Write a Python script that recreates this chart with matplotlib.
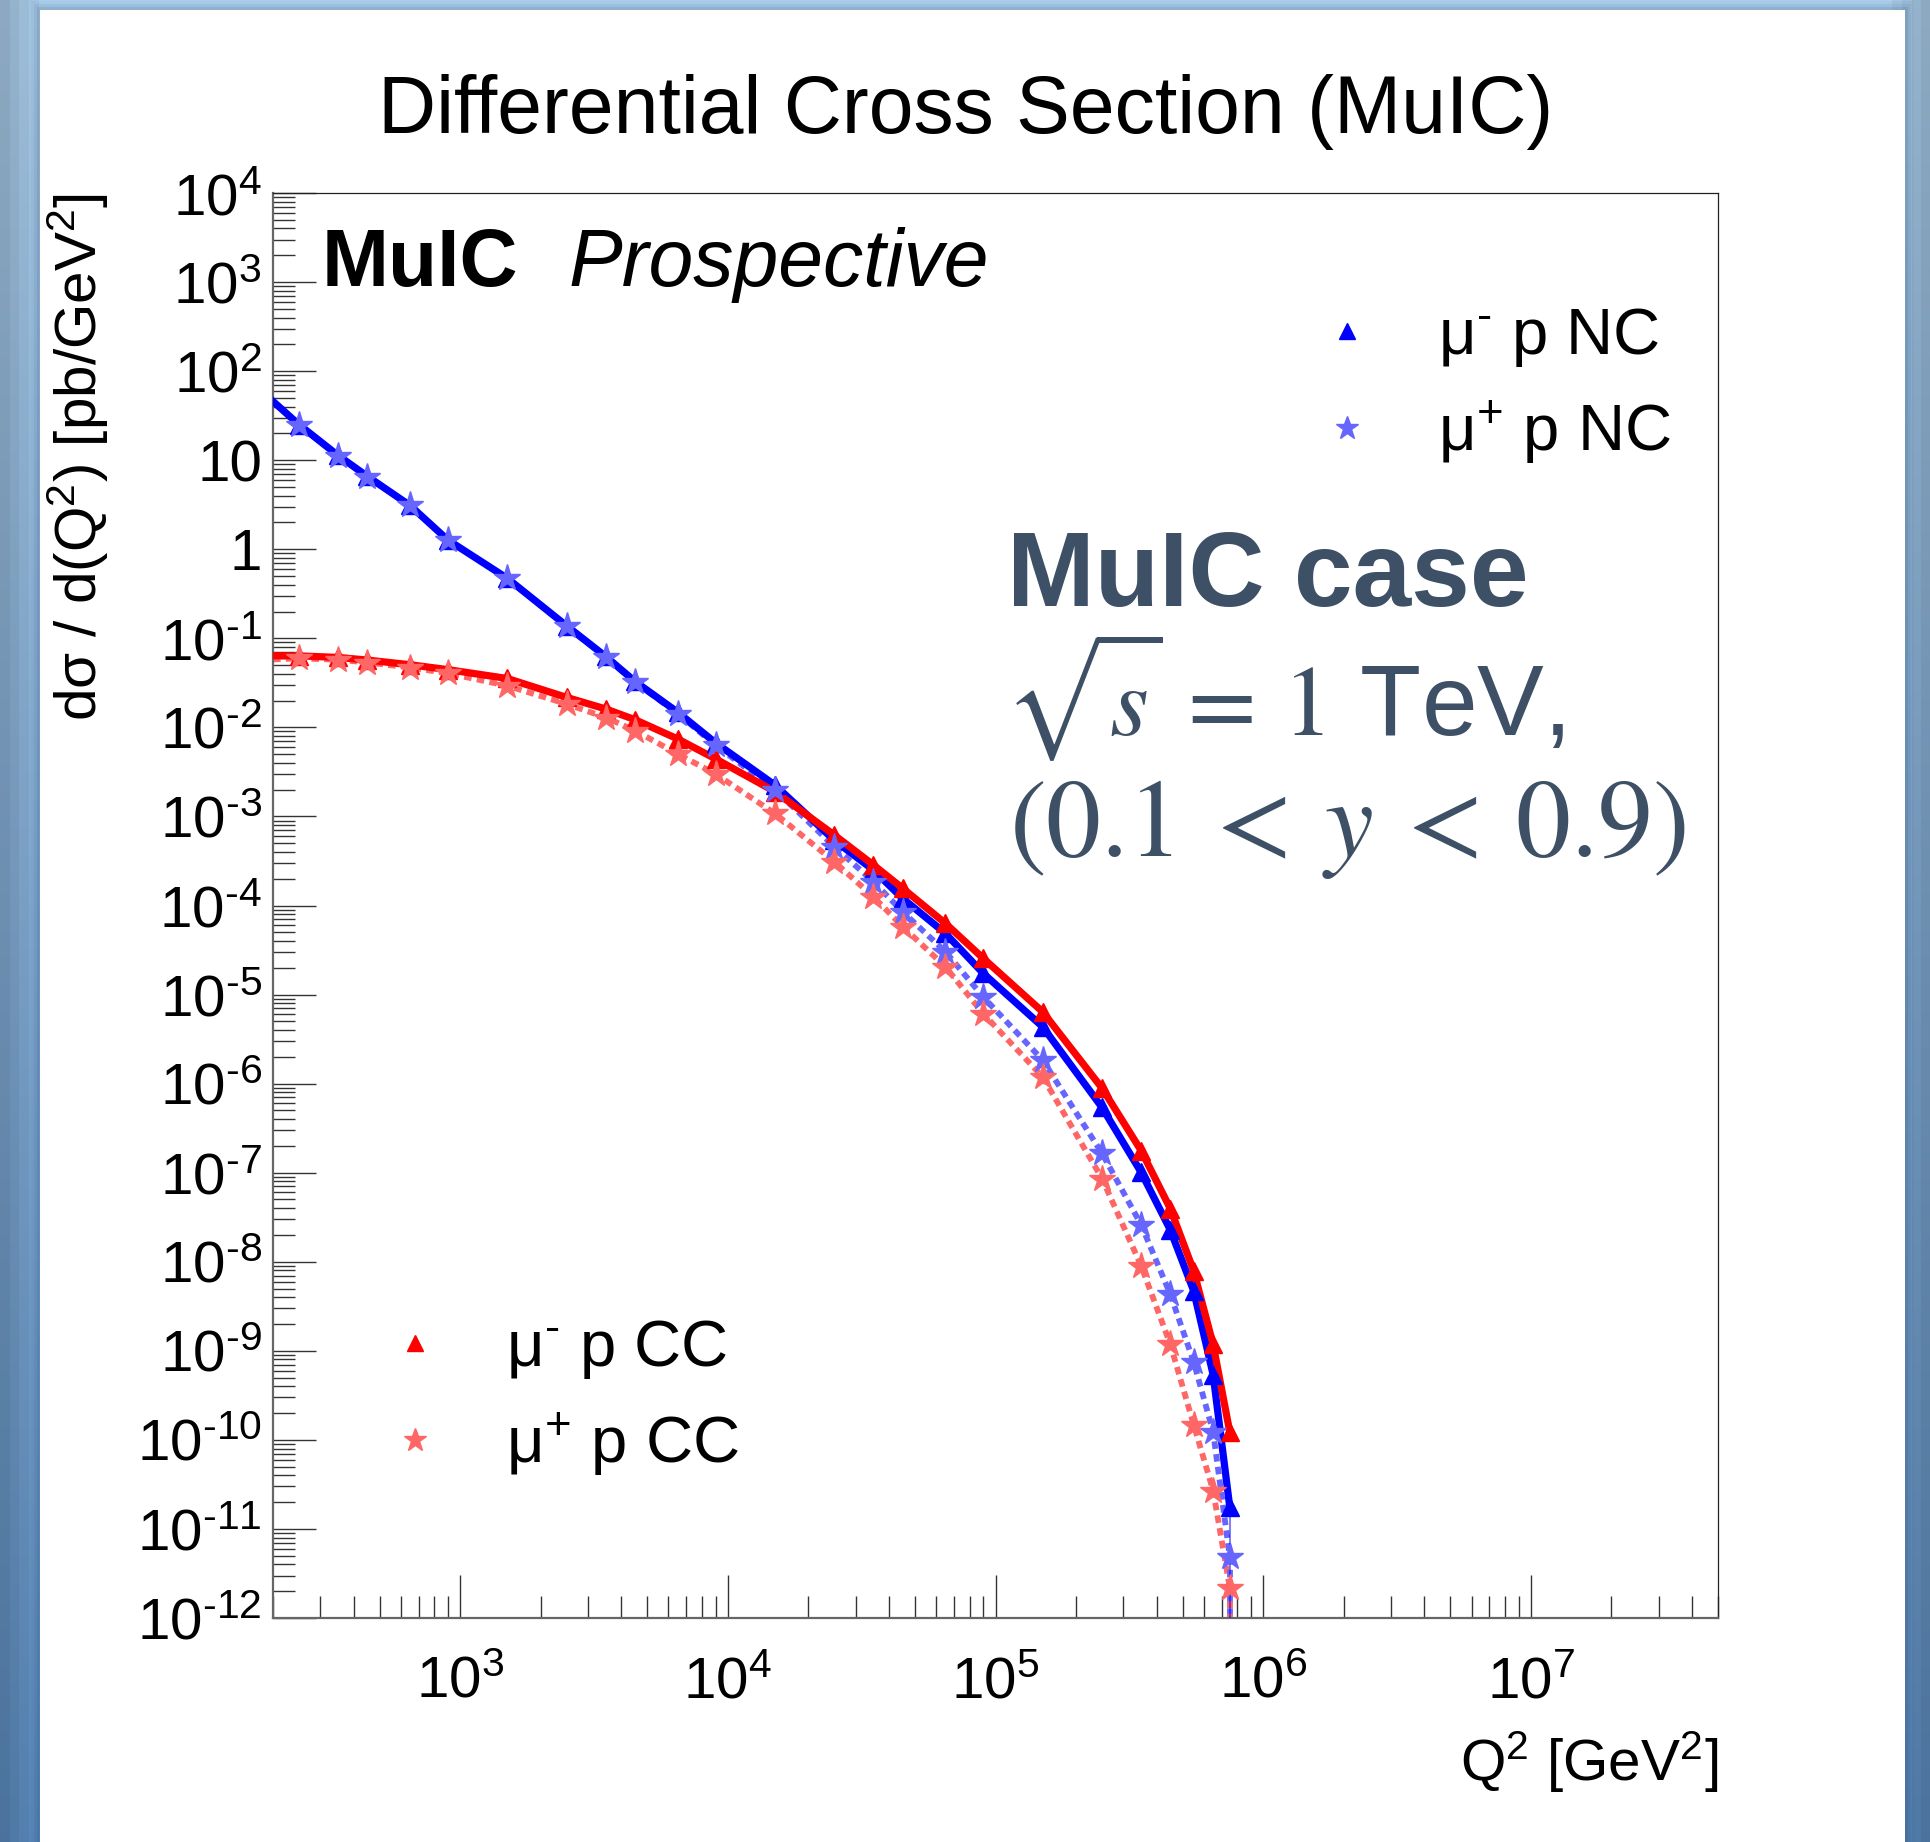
import numpy as np
import matplotlib
matplotlib.use("Agg")
import matplotlib.pyplot as plt
from matplotlib.patches import Rectangle
from matplotlib.lines import Line2D
from matplotlib.ticker import LogLocator, FuncFormatter, NullFormatter

plt.rcParams['font.family'] = ['Liberation Sans', 'DejaVu Sans']
plt.rcParams['mathtext.fontset'] = 'custom'
plt.rcParams['mathtext.rm'] = 'Liberation Sans'
plt.rcParams['mathtext.it'] = 'Liberation Sans:italic'
plt.rcParams['mathtext.bf'] = 'Liberation Sans:bold'
plt.rcParams['mathtext.default'] = 'regular'

# ====== Q^2 bins [GeV^2] (first entry = start of the curves) ======
q2 = [200, 250, 350, 450, 650, 900, 1500, 2500, 3500, 4500, 6500, 9000,
      15000, 25000, 35000, 45000, 65000, 90000, 150000, 250000, 350000,
      450000, 550000, 650000, 750000]

# ====== dsigma/dQ^2 [pb/GeV^2] ======
nc_minus = [45.8, 25.1, 11.3, 6.6, 3.1, 1.27, 0.472, 0.138, 0.0625, 0.0328,
            0.0148, 0.0067, 2.25e-3, 5.4e-4, 2.5e-4, 1.2e-4, 4.86e-5, 1.73e-5,
            4.35e-6, 5.4e-7, 1.01e-7, 2.27e-8, 4.7e-9, 5.4e-10, 1.77e-11]
nc_plus = [45.5, 25.0, 11.2, 6.5, 3.1, 1.26, 0.47, 0.136, 0.0615, 0.0322,
           0.0143, 0.0063, 2.0e-3, 4.57e-4, 1.85e-4, 8.5e-5, 3.03e-5, 9.4e-6,
           1.84e-6, 1.65e-7, 2.6e-8, 4.3e-9, 7.5e-10, 1.23e-10, 4.9e-12]
cc_minus = [0.0637, 0.0635, 0.061, 0.057, 0.0505, 0.0445, 0.0354, 0.0217,
            0.0161, 0.0122, 0.00741, 0.00443, 1.9e-3, 6.18e-4, 2.85e-4,
            1.56e-4, 6.3e-5, 2.55e-5, 6.4e-6, 8.9e-7, 1.77e-7, 3.94e-8,
            7.9e-9, 1.18e-9, 1.23e-10]
cc_plus = [0.058, 0.0595, 0.0575, 0.0535, 0.047, 0.0405, 0.0293, 0.0183,
           0.0129, 0.0092, 0.00503, 0.0030, 1.08e-3, 3.1e-4, 1.25e-4, 5.8e-5,
           2.05e-5, 6.1e-6, 1.19e-6, 8.6e-8, 9.0e-9, 1.18e-9, 1.48e-10,
           2.7e-11, 2.2e-12]

x_range = (200, 5e7)
y_range = (1e-12, 1e4)

W, H = 1931, 1842
BLUE = '#0000ff'
LBLUE = '#6666ff'
RED = '#ff0000'
LRED = '#ff6666'
SLATE = '#3d5066'
HYPH = '\u2010'  # short ROOT-style minus in exponents


def fx(px):
    return px / W


def fy(py):
    return 1 - py / H


fig = plt.figure(figsize=(W / 100, H / 100), dpi=100)

# ====== background frame ======
bg = fig.add_axes([0, 0, 1, 1], zorder=-10)
bg.axis('off')
t = np.linspace(0, 1, 200)[:, None]
s = np.linspace(0, 1, 200)[None, :]
top_c = np.array([172, 207, 236]) / 255
bot_c = np.array([92, 140, 192]) / 255
grad = top_c[None, None, :] * (1 - t[..., None]) + bot_c[None, None, :] * t[..., None]
edge = 1 - 0.18 * np.clip(np.abs(s - 0.5) * 2 - 0.96, 0, 1)[..., None] / 0.04
grad = np.clip(grad * edge, 0, 1)
bg.imshow(grad, extent=[0, W, H, 0], aspect='auto')
for k, a in enumerate([0.10, 0.07, 0.04]):
    bg.add_patch(Rectangle((40 - 3 * (k + 1), 10 - 3 * (k + 1)), 1865 + 6 * (k + 1), H,
                           facecolor='#1b3d66', alpha=a, edgecolor='none'))
bg.add_patch(Rectangle((40, 10), 1865, H, facecolor='white', edgecolor='none'))
bg.set_xlim(0, W)
bg.set_ylim(H, 0)

# ====== main axes ======
ax = fig.add_axes([fx(273), fy(1618), (1718 - 273) / W, (1618 - 193) / H])
ax.set_xscale('log')
ax.set_yscale('log')
ax.set_xlim(*x_range)
ax.set_ylim(*y_range)

dot = (0, (1.3, 0.9))
# dotted mu+ curves
ax.plot(q2, nc_plus, color=LBLUE, lw=4.2, ls=dot, dash_capstyle='butt', zorder=2)
ax.plot(q2, cc_plus, color=LRED, lw=4.2, ls=dot, dash_capstyle='butt', zorder=2)
ax.plot([q2[-1], q2[-1]], [nc_plus[-1], y_range[0]], color=LBLUE, lw=4.2, ls=dot, zorder=2)
ax.plot([q2[-1], q2[-1]], [cc_plus[-1], y_range[0]], color=LRED, lw=4.2, ls=dot, zorder=2)
# solid mu- curves
ax.plot(q2, nc_minus, color=BLUE, lw=5.2, zorder=3)
ax.plot(q2, cc_minus, color=RED, lw=5.2, zorder=3)
ax.vlines(q2[-1], y_range[0], nc_minus[-1], color=BLUE, lw=1.2, alpha=0.6, zorder=3)

# markers
mk = slice(1, None)
ax.plot(q2[mk], nc_minus[mk], ls='none', marker='^', ms=13, color=BLUE, zorder=4)
ax.plot(q2[mk], cc_minus[mk], ls='none', marker='^', ms=13, color=RED, zorder=4)
ax.plot(q2[mk], nc_plus[mk], ls='none', marker='*', ms=20, color=LBLUE, zorder=5)
ax.plot(q2[mk], cc_plus[mk], ls='none', marker='*', ms=20, color=LRED, zorder=5)


def pow_label(v, pos):
    e = int(round(np.log10(v)))
    if e == 0:
        return '1'
    if e == 1:
        return '10'
    exp = str(e).replace('-', HYPH)
    return r'$10^{%s}$' % exp


ax.yaxis.set_major_locator(LogLocator(base=10, numticks=40))
ax.yaxis.set_minor_locator(LogLocator(base=10, subs=np.arange(2, 10), numticks=40))
ax.xaxis.set_major_locator(LogLocator(base=10, numticks=40))
ax.xaxis.set_minor_locator(LogLocator(base=10, subs=np.arange(2, 10), numticks=40))
ax.yaxis.set_major_formatter(FuncFormatter(pow_label))
ax.xaxis.set_major_formatter(FuncFormatter(pow_label))
ax.yaxis.set_minor_formatter(NullFormatter())
ax.xaxis.set_minor_formatter(NullFormatter())

ax.tick_params(which='both', direction='in', top=False, right=False, width=1.0, color='#333333')
ax.tick_params(which='major', length=31)
ax.tick_params(which='minor', length=16)
ax.tick_params(axis='x', which='major', labelsize=42, pad=27)
ax.tick_params(axis='y', which='major', labelsize=42, pad=8)

for side in ['left', 'bottom']:
    ax.spines[side].set_color('#666666')
    ax.spines[side].set_linewidth(1.6)
for side in ['top', 'right']:
    ax.spines[side].set_color('#222222')
    ax.spines[side].set_linewidth(0.9)

ax.set_xlabel(r'Q$^{2}$ [GeV$^{2}$]', fontsize=42, loc='right')
ax.xaxis.set_label_coords(1.0, -0.078)
ax.set_ylabel('dσ / d(Q$^{2}$) [pb/GeV$^{2}$]', fontsize=42, loc='top')
ax.yaxis.set_label_coords(-0.112, 1.0)

# ====== legends ======
nc_handles = [Line2D([], [], ls='none', marker='^', ms=12, color=BLUE),
              Line2D([], [], ls='none', marker='*', ms=17, color=LBLUE)]
cc_handles = [Line2D([], [], ls='none', marker='^', ms=12, color=RED),
              Line2D([], [], ls='none', marker='*', ms=17, color=LRED)]
leg_opts = dict(loc='upper left', bbox_transform=fig.transFigure, frameon=False,
                fontsize=47, handlelength=1.0, handletextpad=0.9,
                labelspacing=0.45, borderpad=0, borderaxespad=0)
leg_nc = ax.legend(nc_handles, ['μ$^{%s}$ p NC' % HYPH, 'μ$^{+}$ p NC'],
                   bbox_to_anchor=(fx(1314), fy(306)), **leg_opts)
ax.add_artist(leg_nc)
ax.legend(cc_handles, ['μ$^{%s}$ p CC' % HYPH, 'μ$^{+}$ p CC'],
          bbox_to_anchor=(fx(382), fy(1318)), **leg_opts)

# ====== annotations ======
fig.text(0.5, fy(133), 'Differential Cross Section (MuIC)', fontsize=58, ha='center', va='baseline')
fig.text(fx(322), fy(286), 'MuIC', fontsize=58, fontweight='bold', va='baseline')
fig.text(fx(569), fy(286), 'Prospective', fontsize=58, fontstyle='italic', va='baseline')

fig.text(fx(1007), fy(606), 'MuIC case', fontsize=76, fontweight='bold', color=SLATE, va='baseline')
fig.text(fx(1004), fy(735), r'$\sqrt{\mathit{s}}\,\mathrm{=}\,\mathrm{1}$ TeV,', fontsize=72,
         color=SLATE, va='baseline', math_fontfamily='stix')
fig.text(fx(1009), fy(856), r'$\mathrm{(0.1}\:\mathrm{<}\:\mathit{y}\:\mathrm{<}\:\mathrm{0.9)}$',
         fontsize=79, color=SLATE, va='baseline', math_fontfamily='stix')

fig.savefig('out.png', dpi=100)
